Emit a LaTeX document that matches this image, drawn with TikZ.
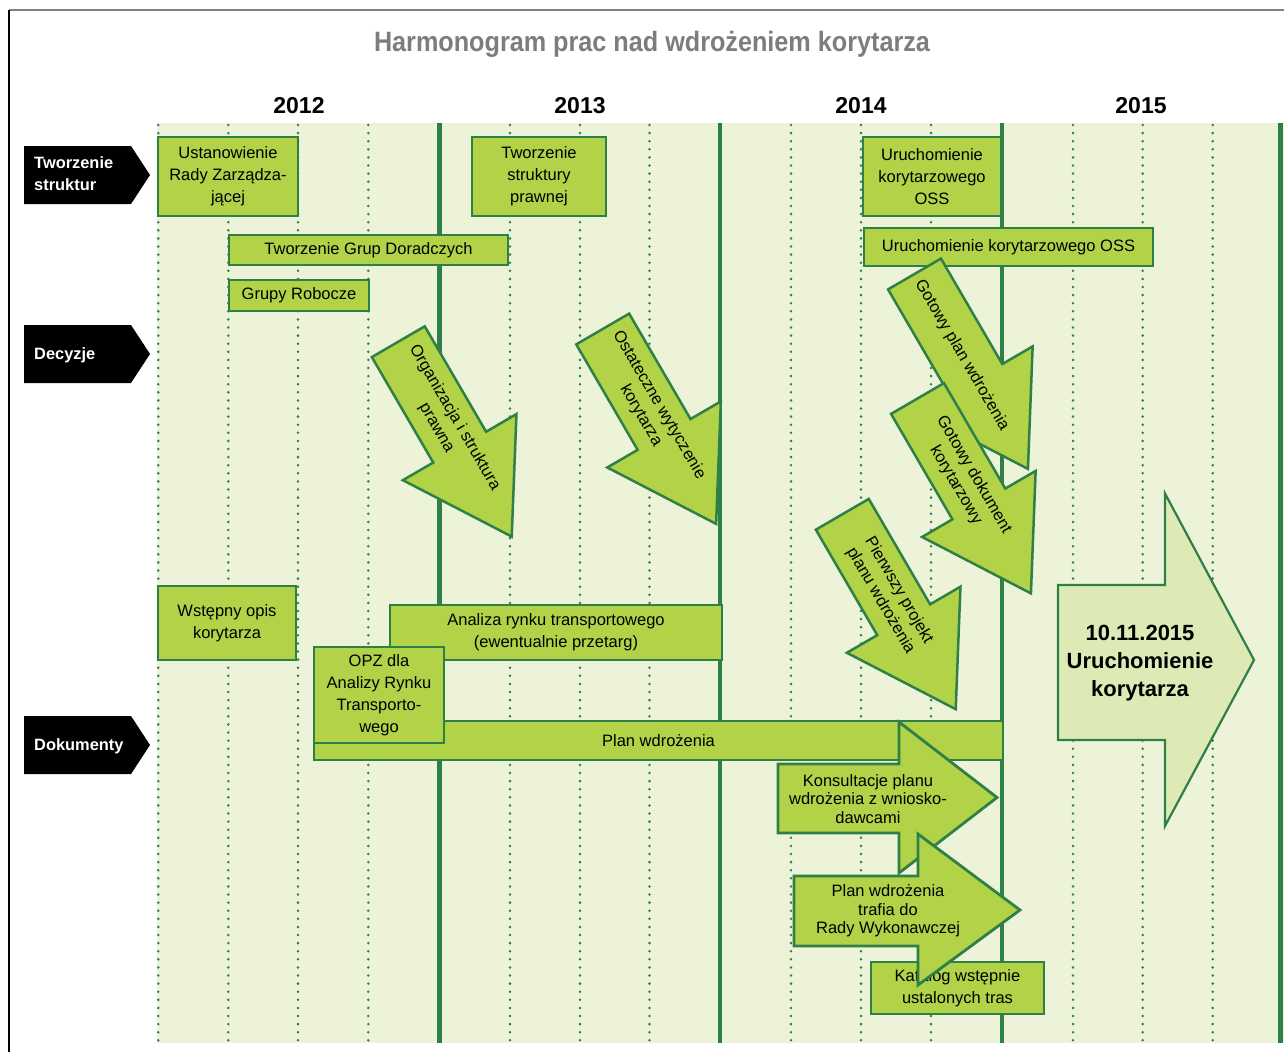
\documentclass[tikz,border=0pt]{standalone}
\usepackage{fontspec}
\setmainfont{Liberation Sans}
\newfontfamily\titlefont{Liberation Sans}[FakeStretch=0.9]
\definecolor{dkg}{RGB}{46,128,70}
\definecolor{lime}{RGB}{178,210,72}
\definecolor{bgg}{RGB}{237,243,216}
\definecolor{lightarr}{RGB}{221,234,182}
\definecolor{titlegray}{RGB}{125,125,125}
\tikzset{
  gbox/.style={draw=dkg, line width=2.8pt, fill=lime, align=center, inner sep=0pt, text=black,
    font=\fontsize{16.5}{22}\selectfont},
  darr/.style={draw=dkg, line width=2.5pt, fill=lime, line join=miter},
  barr/.style={draw=dkg, line width=2.8pt, fill=lime, line join=miter},
  bigarr/.style={draw=dkg, line width=2.2pt, fill=lightarr, line join=miter},
  atext/.style={align=center, inner sep=0pt, font=\fontsize{16.5}{21}\selectfont},
  btext/.style={align=center, inner sep=0pt, font=\fontsize{16.5}{18.5}\selectfont},
  dotline/.style={dkg, line width=2.8pt, line cap=round, dash pattern=on 0pt off 8.1pt},
  yearline/.style={dkg, line width=4.5pt},
  yearlab/.style={font=\bfseries\fontsize{23}{23}\selectfont},
  rowshape/.style={fill=black},
  rowtext/.style={anchor=west, text=white, align=left, inner sep=0pt,
    font=\bfseries\fontsize{16.4}{22}\selectfont},
}
\newcommand\diagarrow[4]{%
  \begin{scope}[shift={(#2,#3)},rotate=-59.8]
    \draw[darr] (0,-30.6) -- (122,-30.6) -- (122,-65.7) -- (225.5,0) -- (122,65.7) -- (122,30.6) -- (0,30.6) -- cycle;
    \node[atext,rotate=-59.8] (#1) at (94,0) {#4};
  \end{scope}}
\begin{document}
\begin{tikzpicture}[x=1pt,y=-1pt]
\useasboundingbox (0,0) rectangle (1284,1052);
\fill[white] (0,0) rectangle (1284,1052);
% frame
\draw[gray, line width=1.8pt] (9,10) -- (1284,10);
\draw[black, line width=1.3pt] (9,10) -- (9,1052);
% title
\node[font=\titlefont\bfseries\fontsize{28}{28}\selectfont, text=titlegray] (title) at (652,44) {Harmonogram prac nad wdrożeniem korytarza};
% years
\node[yearlab] (y2012) at (299,106) {2012};
\node[yearlab] (y2013) at (580,106) {2013};
\node[yearlab] (y2014) at (861,106) {2014};
\node[yearlab] (y2015) at (1141,106) {2015};
% background
\fill[bgg] (157,123) rectangle (1284,1043);
\foreach \xx in {158.3,228.3,298,368.3,510,580,649.5,791,861,931,1073,1142.7,1212.7}
  \draw[dotline] (\xx,125) -- (\xx,1043);
\foreach \xx in {439.5,720,1002,1280.7}
  \draw[yearline] (\xx,123) -- (\xx,1043);
% row 1 boxes
\node[gbox, minimum width=140pt, minimum height=79pt] (ust) at (228,176.5) {Ustanowienie\\Rady Zarządza-\\jącej};
\node[gbox, minimum width=134pt, minimum height=79pt] (tsp) at (539,176.5) {Tworzenie\\struktury\\prawnej};
\node[gbox, minimum width=138pt, minimum height=79pt] (oss3) at (932,176.5) {Uruchomienie\\korytarzowego\\OSS};
\node[gbox, minimum width=279pt, minimum height=30pt] (tgd) at (368.5,250) {Tworzenie Grup Doradczych};
\node[gbox, minimum width=140pt, minimum height=31pt] (gr) at (299,295.5) {Grupy Robocze};
\node[gbox, minimum width=289pt, minimum height=38pt] (oss1) at (1008.5,247) {Uruchomienie korytarzowego OSS};
% diagonal arrows
\diagarrow{orgA}{398.3}{341.7}{Organizacja i struktura\\prawna}
\diagarrow{ostB}{602.7}{329}{Ostateczne wytyczenie\\korytarza}
\diagarrow{gotC}{914.5}{274}{Gotowy plan wdrożenia}
\diagarrow{gotD}{917.5}{398.5}{Gotowy dokument\\korytarzowy}
\diagarrow{pieE}{842.3}{514.3}{Pierwszy projekt\\planu wdrożenia}
% row labels
\fill[rowshape] (24,146) -- (131,146) -- (150,175) -- (131,204) -- (24,204) -- cycle;
\node[rowtext] (lab1) at (34,174) {Tworzenie\\struktur};
\fill[rowshape] (24,325) -- (131,325) -- (150,354) -- (131,383) -- (24,383) -- cycle;
\node[rowtext] (lab2) at (34,355) {Decyzje};
\fill[rowshape] (24,716) -- (131,716) -- (150,745) -- (131,774) -- (24,774) -- cycle;
\node[rowtext] (lab3) at (34,746) {Dokumenty};
% documents
\node[gbox, minimum width=138pt, minimum height=74pt] (wst) at (227,623) {Wstępny opis\\korytarza};
\node[gbox, minimum width=332pt, minimum height=55pt] (ana) at (556,632.5) {Analiza rynku transportowego\\(ewentualnie przetarg)};
\node[gbox, minimum width=689pt, minimum height=39pt] (plan) at (658.5,740.5) {Plan wdrożenia};
\node[gbox, minimum width=130pt, minimum height=96pt] (opz) at (379,695) {OPZ dla\\Analizy Rynku\\Transporto-\\wego};
% block arrows
\draw[barr] (778,764) -- (899,764) -- (899,722) -- (997,797.5) -- (899,873) -- (899,833) -- (778,833) -- cycle;
\node[btext] (kons) at (868,799) {Konsultacje planu\\wdrożenia z wniosko-\\dawcami};
\node[gbox, minimum width=173pt, minimum height=52pt] (kat) at (957.5,988) {Katalog wstępnie\\ustalonych tras};
\draw[barr] (794,876) -- (918,876) -- (918,834) -- (1020,910) -- (918,985) -- (918,946) -- (794,946) -- cycle;
\node[btext] (traf) at (888,911) {Plan wdrożenia\\trafia do\\Rady Wykonawczej};
% big arrow
\draw[bigarr] (1058,585) -- (1165,585) -- (1165,493.5) -- (1254,660) -- (1165,826) -- (1165,740) -- (1058,740) -- cycle;
\node[align=center, inner sep=0pt, font=\bfseries\fontsize{22}{28}\selectfont] (launch) at (1140,663) {10.11.2015\\Uruchomienie\\korytarza};
\end{tikzpicture}
\end{document}
